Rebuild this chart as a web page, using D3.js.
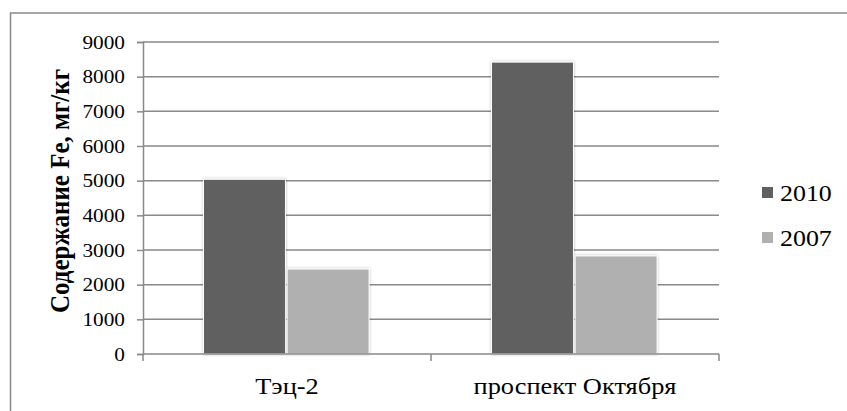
<!DOCTYPE html>
<html>
<head>
<meta charset="utf-8">
<script src="https://cdn.jsdelivr.net/npm/d3@7"></script>
<style>
  html, body { margin: 0; padding: 0; background: #fff; }
  svg { display: block; }
</style>
</head>
<body>
<svg id="chart" width="847" height="411" style="font-family: Liberation Serif"></svg>
<script>
// Iron content in soil, mg/kg
const categories = ["Тэц-2", "проспект Октября"];
const seriesNames = ["2010", "2007"];
const values2010 = [5040, 8420];
const values2007 = [2450, 2830];
const yTicks = [0, 1000, 2000, 3000, 4000, 5000, 6000, 7000, 8000, 9000];
const seriesColors = ["#606060", "#b0b0b0"];

const FONT = "Liberation Serif";
const AXIS_GRAY = "#898989";
const STRETCH = 1.12; // text is set slightly wide

const svg = d3.select("#chart");
const plot = { left: 143, right: 719, top: 42, bottom: 354 };

// outer frame
svg.append("rect")
  .attr("x", 10.5).attr("y", 13)
  .attr("width", 900).attr("height", 500)
  .attr("fill", "none")
  .attr("stroke", AXIS_GRAY)
  .attr("stroke-width", 1.5);

// soft shadow for the bars
const defs = svg.append("defs");
const f = defs.append("filter").attr("id", "shadow")
  .attr("x", "-20%").attr("y", "-20%").attr("width", "140%").attr("height", "140%");
f.append("feGaussianBlur").attr("in", "SourceAlpha").attr("stdDeviation", 1.6).attr("result", "b");
f.append("feComponentTransfer").attr("in", "b").attr("result", "s")
  .append("feFuncA").attr("type", "linear").attr("slope", 0.3);
const m = f.append("feMerge");
m.append("feMergeNode").attr("in", "s");
m.append("feMergeNode").attr("in", "SourceGraphic");

const y = d3.scaleLinear().domain([0, 9000]).range([plot.bottom, plot.top]);
const x0 = d3.scaleBand().domain(categories).range([plot.left, plot.right]);
const bw = x0.bandwidth();
const x1 = d3.scaleBand().domain(seriesNames).range([bw * 0.21, bw * 0.785]).paddingInner(0.02);

// horizontal gridlines
svg.append("g").selectAll("line").data(yTicks.filter(d => d > 0)).join("line")
  .attr("x1", plot.left).attr("x2", plot.right)
  .attr("y1", d => y(d)).attr("y2", d => y(d))
  .attr("stroke", AXIS_GRAY).attr("stroke-width", 1.5);

// y axis
const yAxis = svg.append("g")
  .attr("transform", `translate(${plot.left},0)`)
  .call(d3.axisLeft(y).tickValues(yTicks).tickSize(6).tickFormat(d3.format("d")));
yAxis.attr("font-family", FONT).attr("font-size", 19);
yAxis.select(".domain").attr("stroke", AXIS_GRAY).attr("stroke-width", 1.5);
yAxis.selectAll(".tick line").attr("stroke", AXIS_GRAY).attr("stroke-width", 1.5);
yAxis.selectAll(".tick text")
  .attr("x", 0)
  .attr("transform", `translate(-18,0) scale(${STRETCH},1)`)
  .attr("font-family", FONT)
  .style("font-family", FONT).style("font-size", "19px").style("fill", "#000");

// bars
const rows = categories.map((c, i) => ({ cat: c, vals: [values2010[i], values2007[i]] }));
const groups = svg.append("g").selectAll("g").data(rows).join("g")
  .attr("transform", d => `translate(${x0(d.cat)},0)`);
groups.selectAll("rect").data(d => d.vals.map((v, k) => ({ s: seriesNames[k], v, k }))).join("rect")
  .attr("x", d => x1(d.s))
  .attr("width", x1.bandwidth())
  .attr("y", d => y(d.v))
  .attr("height", d => y(0) - y(d.v))
  .attr("fill", d => seriesColors[d.k])
  .attr("stroke", "#fff")
  .attr("stroke-width", 1)
  .attr("filter", "url(#shadow)");

// x axis
const xAxis = svg.append("g").attr("transform", `translate(0,${plot.bottom})`);
xAxis.append("line").attr("x1", plot.left).attr("x2", plot.right)
  .attr("stroke", AXIS_GRAY).attr("stroke-width", 1.5);
const xTickPos = [plot.left, plot.left + bw, plot.right];
xAxis.selectAll(".xt").data(xTickPos).join("line")
  .attr("class", "xt")
  .attr("x1", d => d).attr("x2", d => d).attr("y1", 0).attr("y2", 7)
  .attr("stroke", AXIS_GRAY).attr("stroke-width", 1.5);
xAxis.selectAll(".xl").data(categories).join("text")
  .attr("class", "xl")
  .attr("transform", d => `translate(${x0(d) + bw / 2},40) scale(${STRETCH - 0.02},1)`)
  .attr("text-anchor", "middle")
  .attr("font-family", FONT)
  .style("font-family", FONT).style("font-size", "24px").style("fill", "#000")
  .text(d => d);

// y axis title
svg.append("text")
  .attr("transform", `translate(69,191) rotate(-90) scale(1,${STRETCH})`)
  .attr("text-anchor", "middle")
  .style("font-family", FONT).style("font-size", "25px").style("font-weight", "bold").style("fill", "#000")
  .text("Содержание Fe, мг/кг");

// legend
const legend = svg.append("g");
seriesNames.forEach((s, i) => {
  const ly = 187 + i * 45;
  legend.append("rect").attr("x", 762).attr("y", ly).attr("width", 11).attr("height", 11)
    .attr("fill", seriesColors[i]);
  legend.append("text")
    .attr("transform", `translate(780,${ly + 14}) scale(1.08,1)`)
    .attr("font-family", FONT)
    .style("font-family", FONT).style("font-size", "24px").style("fill", "#000")
    .text(s);
});
</script>
</body>
</html>
